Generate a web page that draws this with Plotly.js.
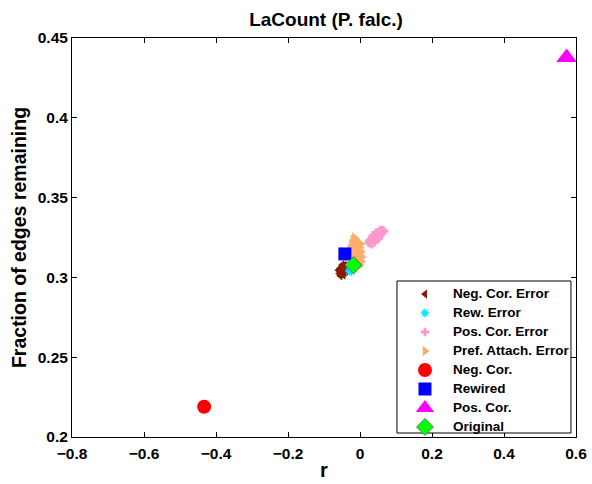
<!DOCTYPE html>
<html>
<head>
<meta charset="utf-8">
<script src="https://cdn.plot.ly/plotly-3.0.1.min.js"></script>
<style>
  html, body { margin: 0; padding: 0; background: #fff; }
  #chart { width: 592px; height: 484px; }
</style>
</head>
<body>
<div id="chart"></div>
<script>
// Assortativity r versus fraction of edges remaining, LaCount (P. falc.) network

// Error ensembles
const negCorErrX = [-0.060,-0.056,-0.053,-0.050,-0.047,-0.044,-0.041,-0.038,-0.035,-0.058,-0.054,-0.051,-0.048,-0.045,-0.042,-0.039,-0.055,-0.052,-0.049,-0.046,-0.043,-0.057,-0.050,-0.046,-0.040];
const negCorErrY = [0.3045,0.3055,0.3060,0.3068,0.3072,0.3075,0.3070,0.3065,0.3060,0.3025,0.3035,0.3040,0.3050,0.3055,0.3048,0.3040,0.3010,0.3020,0.3030,0.3035,0.3030,0.3050,0.3078,0.3015,0.3055];

const rewErrX = [-0.030,-0.026,-0.022,-0.018,-0.024,-0.020];
const rewErrY = [0.3040,0.3048,0.3055,0.3050,0.3035,0.3062];

const posCorErrX = [0.024,0.028,0.032,0.036,0.040,0.044,0.048,0.052,0.056,0.060,0.064,0.067,0.030,0.034,0.038,0.042,0.046,0.050,0.054,0.058,0.062,0.040,0.046,0.052,0.026,0.036,0.056,0.044];
const posCorErrY = [0.3215,0.3225,0.3208,0.3230,0.3218,0.3240,0.3252,0.3262,0.3275,0.3285,0.3295,0.3290,0.3240,0.3250,0.3245,0.3260,0.3270,0.3282,0.3290,0.3298,0.3278,0.3232,0.3235,0.3245,0.3230,0.3265,0.3260,0.3280];

const prefErrX = [-0.032,-0.028,-0.024,-0.020,-0.016,-0.012,-0.008,-0.004,0.000,0.004,0.006,0.004,0.000,-0.004,-0.008,-0.012,-0.016,-0.020,-0.024,-0.010,-0.005,-0.002,-0.014,-0.018,0.002];
const prefErrY = [0.3150,0.3180,0.3210,0.3235,0.3250,0.3240,0.3225,0.3205,0.3185,0.3160,0.3130,0.3100,0.3075,0.3090,0.3120,0.3150,0.3180,0.3205,0.3170,0.3195,0.3160,0.3135,0.3215,0.3140,0.3210];

// Single networks
const negCorX = [-0.433];
const negCorY = [0.219];
const rewiredX = [-0.042];
const rewiredY = [0.3147];
const posCorX = [0.574];
const posCorY = [0.4378];
const originalX = [-0.018];
const originalY = [0.3078];

// Axes ticks
const xTicks = [-0.8, -0.6, -0.4, -0.2, 0, 0.2, 0.4, 0.6];
const xTickText = ['\u22120.8', '\u22120.6', '\u22120.4', '\u22120.2', '0', '0.2', '0.4', '0.6'];
const yTicks = [0.2, 0.25, 0.3, 0.35, 0.4, 0.45];
const yTickText = ['0.2', '0.25', '0.3', '0.35', '0.4', '0.45'];

const FONT = 'Liberation Sans, Arial, Helvetica, sans-serif';

// legend label, drawn a little larger than the row pitch font
const lbl = s => '<span style="font-size:13.5px">' + s + '</span>';

const traces = [
  { name: lbl('Neg. Cor. Error'), x: negCorErrX, y: negCorErrY, type: 'scatter', mode: 'markers',
    marker: { symbol: 'triangle-left', size: 8, color: '#8c1a00' } },
  { name: lbl('Rew. Error'), x: rewErrX, y: rewErrY, type: 'scatter', mode: 'markers',
    marker: { symbol: 'asterisk-open', size: 7, color: '#00e5ff', line: { color: '#00e5ff', width: 1.5 } } },
  { name: lbl('Pos. Cor. Error'), x: posCorErrX, y: posCorErrY, type: 'scatter', mode: 'markers',
    marker: { symbol: 'cross', size: 7, color: '#ff99cc' } },
  { name: lbl('Pref. Attach. Error'), x: prefErrX, y: prefErrY, type: 'scatter', mode: 'markers',
    marker: { symbol: 'triangle-right', size: 9, color: '#ffae6b' } },
  { name: lbl('Neg. Cor.'), x: negCorX, y: negCorY, type: 'scatter', mode: 'markers',
    marker: { symbol: 'circle', size: 14, color: '#ff0000' } },
  { name: lbl('Rewired'), x: rewiredX, y: rewiredY, type: 'scatter', mode: 'markers',
    marker: { symbol: 'square', size: 13, color: '#0000ff' } },
  { name: lbl('Pos. Cor.'), x: posCorX, y: posCorY, type: 'scatter', mode: 'markers',
    marker: { symbol: 'triangle-up', size: 18, color: '#ff00ff' } },
  { name: lbl('Original'), x: originalX, y: originalY, type: 'scatter', mode: 'markers',
    marker: { symbol: 'diamond', size: 13, color: '#00ff00', line: { color: '#5a7a5a', width: 1 } } }
];

const axisCommon = {
  showline: true, linecolor: '#000', linewidth: 1, mirror: 'ticks',
  ticks: 'inside', ticklen: 5, tickcolor: '#000', tickwidth: 1,
  showgrid: false, zeroline: false,
  tickfont: { family: FONT, size: 15.5, color: '#000', weight: 'bold' }
};

const layout = {
  width: 592, height: 484,
  margin: { l: 72, r: 16, t: 38, b: 47 },
  paper_bgcolor: '#fff', plot_bgcolor: '#fff',
  font: { family: FONT, color: '#000' },
  title: { text: 'LaCount (P. falc.)', font: { family: FONT, size: 19, color: '#000', weight: 'bold' },
           xref: 'paper', x: 0.504, xanchor: 'center', yref: 'container', y: 0.96, yanchor: 'middle' },
  xaxis: Object.assign({}, axisCommon, {
    range: [-0.8, 0.6], tickmode: 'array', tickvals: xTicks, ticktext: xTickText,
    ticklabelstandoff: 2,
    title: { text: 'r', font: { family: FONT, size: 20, color: '#000', weight: 'bold' }, standoff: 2 }
  }),
  yaxis: Object.assign({}, axisCommon, {
    range: [0.2, 0.45], tickmode: 'array', tickvals: yTicks, ticktext: yTickText,
    title: { text: 'Fraction of edges remaining', font: { family: FONT, size: 19.5, color: '#000', weight: 'bold' }, standoff: 5 }
  }),
  // legend frame
  shapes: [{
    type: 'rect', xref: 'paper', yref: 'paper', layer: 'above',
    x0: 0.6448, x1: 0.990, y0: 0.010, y1: 0.391,
    line: { color: '#000', width: 1 }, fillcolor: '#fff'
  }],
  showlegend: true,
  legend: {
    x: 0.6448, y: 0.3947, xanchor: 'left', yanchor: 'top',
    bgcolor: 'rgba(0,0,0,0)', borderwidth: 0, itemwidth: 46,
    font: { family: FONT, size: 11, color: '#000', weight: 'bold' },
    itemsizing: 'trace', traceorder: 'normal'
  }
};

Plotly.newPlot('chart', traces, layout, { displayModeBar: false, staticPlot: true });
</script>
</body>
</html>
